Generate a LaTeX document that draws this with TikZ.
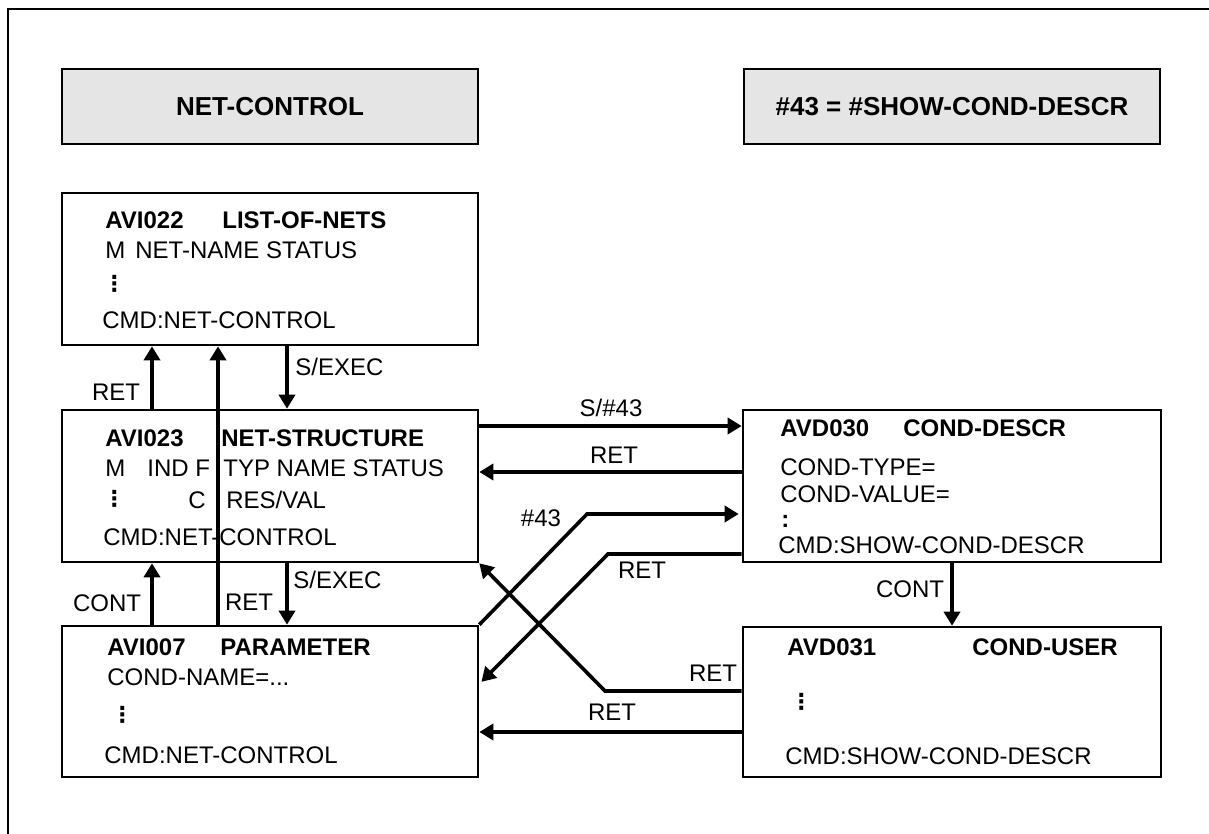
\documentclass[tikz,border=0pt]{standalone}
\usepackage{fontspec}
\setmainfont{Liberation Sans}
\newfontfamily\dvfont{DejaVu Sans}
\usetikzlibrary{arrows.meta}
\begin{document}
\begin{tikzpicture}[x=0.5pt,y=-0.5pt,
  box/.style={draw, line width=1.3pt, inner sep=0pt, minimum width=208pt, minimum height=76pt},
  hdr/.style={box, fill=black!10, minimum height=37.5pt, font=\fontsize{13}{15}\selectfont\bfseries},
  txt/.style={anchor=west, inner sep=0pt, font=\fontsize{12}{14}\selectfont},
  btxt/.style={txt, font=\fontsize{12}{14}\selectfont\bfseries},
  vdots/.style={anchor=west, inner sep=0pt, font=\fontsize{11}{13}\selectfont\dvfont\bfseries},
  lbl/.style={inner sep=0pt, font=\fontsize{12}{14}\selectfont},
  arr/.style={line width=1.8pt, -{Triangle[length=7pt,width=8pt]}},
  ln/.style={line width=1.8pt}
]
\useasboundingbox (0,0) rectangle (1209,834);
% frame
\draw[line width=0.7pt] (8,834) -- (8,9) -- (1209,9);

% header boxes
\node[hdr] (h1) at (270,106.5) {NET-CONTROL};
\node[hdr] (h2) at (952,106.5) {\#43 = \#SHOW-COND-DESCR};

% boxes
\node[box] (A22) at (270,269) {};
\node[box] (A23) at (270,486) {};
\node[box, minimum height=75.5pt] (A07) at (270,701.5) {};
\node[box, minimum width=209pt] (D30) at (952,486) {};
\node[box, minimum width=209pt, minimum height=75pt] (D31) at (952,702) {};

% AVI022 text
\node[btxt] (t22a) at (105,220) {AVI022};
\node[btxt] (t22b) at (222,220) {LIST-OF-NETS};
\node[txt] (t22c) at (105,250) {M};
\node[txt] (t22d) at (135,250) {NET-NAME STATUS};
\node[vdots] (t22e) at (103,284) {⋮};
\node[txt] (t22f) at (102,320) {CMD:NET-CONTROL};

% AVI023 text
\node[btxt] (t23a) at (105,438) {AVI023};
\node[btxt] (t23b) at (221,438) {NET-STRUCTURE};
\node[txt] (t23c) at (105,468) {M};
\node[txt] (t23d) at (147,468) {IND F};
\node[txt] (t23e) at (223,468) {TYP NAME STATUS};
\node[vdots] (t23f) at (103,499) {⋮};
\node[txt] (t23g) at (188,500) {C};
\node[txt] (t23h) at (226,500) {RES/VAL};
\node[txt] (t23i) at (103,537) {CMD:NET-CONTROL};

% AVI007 text
\node[btxt] (t07a) at (107,647) {AVI007};
\node[btxt] (t07b) at (220,647) {PARAMETER};
\node[txt] (t07c) at (107,677) {COND-NAME=...};
\node[vdots] (t07d) at (111,715) {⋮};
\node[txt] (t07e) at (104,755) {CMD:NET-CONTROL};

% AVD030 text
\node[btxt] (t30a) at (780,428) {AVD030};
\node[btxt] (t30b) at (903,428) {COND-DESCR};
\node[txt] (t30c) at (780,467) {COND-TYPE=};
\node[txt] (t30d) at (780,494) {COND-VALUE=};
\node[btxt] (t30e) at (781,521) {:};
\node[txt] (t30f) at (778,545) {CMD:SHOW-COND-DESCR};

% AVD031 text
\node[btxt] (t31a) at (787,647) {AVD031};
\node[btxt] (t31b) at (972,647) {COND-USER};
\node[vdots] (t31c) at (790,702) {⋮};
\node[txt] (t31d) at (785,756) {CMD:SHOW-COND-DESCR};

% vertical connectors on the left
\draw[arr] (152,0 |- A23.north) -- (152,0 |- A22.south);
\node[lbl] (l1) at (116,392) {RET};
\draw[arr] (218,0 |- A07.north) -- (218,0 |- A22.south);
\node[lbl] (l2) at (249,602) {RET};
\draw[arr] (287,0 |- A22.south) -- (287,0 |- A23.north);
\node[lbl, anchor=west] (l3) at (295,367) {S/EXEC};
\draw[arr] (152,0 |- A07.north) -- (152,0 |- A23.south);
\node[lbl] (l4) at (107,603) {CONT};
\draw[arr] (287,0 |- A23.south) -- (287,0 |- A07.north);
\node[lbl, anchor=west] (l5) at (293,580) {S/EXEC};

% horizontal / crossing connectors
\draw[arr] (A23.east |- 0,426) -- (D30.west |- 0,426);
\node[lbl] (l6) at (611,408) {S/\#43};
\draw[arr] (D30.west |- 0,472) -- (A23.east |- 0,472);
\node[lbl] (l7) at (614,455) {RET};
\draw[arr, shorten >=1.5pt] (A07.north east) -- (587,514) -- (D30.west |- 0,514);
\node[lbl] (l8) at (541,518) {\#43};
\draw[arr, shorten >=1.5pt] (D30.west |- 0,554) -- (608,554) -- (A07.east |- 0,684);
\node[lbl] (l9) at (642,570) {RET};
\draw[arr] (D31.west |- 0,691) -- (605,691) -- (A23.south east);
\node[lbl] (l10) at (713,673) {RET};
\draw[arr] (D31.west |- 0,732) -- (A07.east |- 0,732);
\node[lbl] (l11) at (612,712) {RET};
\draw[arr] (D30.south) -- (D31.north);
\node[lbl] (l12) at (910,589) {CONT};
\end{tikzpicture}
\end{document}
